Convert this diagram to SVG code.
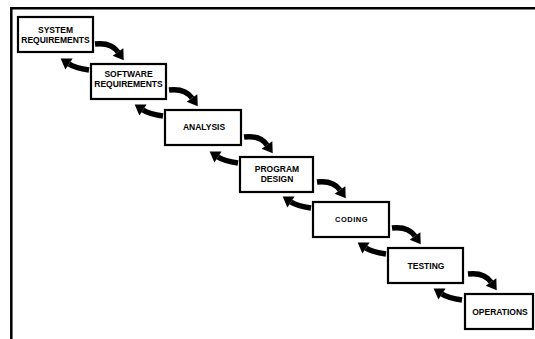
<svg xmlns="http://www.w3.org/2000/svg" xmlns:xlink="http://www.w3.org/1999/xlink" width="535" height="339" viewBox="0 0 535 339">
<style>
.box{fill:#fff;stroke:#000;stroke-width:2.2}
.lbl{font-family:"Liberation Sans",Arial,sans-serif;font-weight:bold;font-size:8.5px;fill:#000;text-anchor:middle}
.shaft{fill:none;stroke:#000;stroke-width:5.5;stroke-linecap:butt}
.frame{fill:none;stroke:#000;stroke-width:2.5}
</style>
<defs>
<marker id="ah" markerUnits="userSpaceOnUse" markerWidth="15" markerHeight="15" viewBox="0 -7.5 12 15" refX="0" refY="0" orient="auto">
<path d="M0,-6.5 L10,0 L0,6.5 Z" fill="#000"/>
</marker>
<path id="fwd" class="shaft" d="M4,-20 Q20,-22 27,-12" marker-end="url(#ah)"/>
<path id="back" class="shaft" d="M-2,6 Q-16,4 -22,0" marker-end="url(#ah)"/>
</defs>
<path class="frame" d="M535,8.3 H11.3 V339"/>
<g id="connectors">
<use xlink:href="#fwd" x="91" y="64"/><use xlink:href="#back" x="91" y="64"/>
<use xlink:href="#fwd" x="165" y="110"/><use xlink:href="#back" x="165" y="110"/>
<use xlink:href="#fwd" x="240" y="157"/><use xlink:href="#back" x="240" y="157"/>
<use xlink:href="#fwd" x="313" y="202"/><use xlink:href="#back" x="313" y="202"/>
<use xlink:href="#fwd" x="388" y="248"/><use xlink:href="#back" x="388" y="248"/>
<use xlink:href="#fwd" x="464" y="294"/><use xlink:href="#back" x="464" y="294"/>
</g>
<g id="system-requirements">
<rect class="box" x="18" y="17" width="75" height="35"/>
<text class="lbl" x="55.5" y="33">SYSTEM</text>
<text class="lbl" x="55.5" y="43">REQUIREMENTS</text>
</g>
<g id="software-requirements">
<rect class="box" x="91" y="64" width="75" height="35"/>
<text class="lbl" x="128.5" y="77">SOFTWARE</text>
<text class="lbl" x="128.5" y="87">REQUIREMENTS</text>
</g>
<g id="analysis">
<rect class="box" x="165" y="110" width="76" height="35"/>
<text class="lbl" x="204" y="130">ANALYSIS</text>
</g>
<g id="program-design">
<rect class="box" x="240" y="157" width="73" height="35"/>
<text class="lbl" x="277" y="172">PROGRAM</text>
<text class="lbl" x="277" y="182">DESIGN</text>
</g>
<g id="coding">
<rect class="box" x="313" y="202" width="76" height="35"/>
<text class="lbl" x="351.5" y="222" style="font-size:7.5px;letter-spacing:0.5px">CODING</text>
</g>
<g id="testing">
<rect class="box" x="388" y="248" width="75" height="35"/>
<text class="lbl" x="426" y="269">TESTING</text>
</g>
<g id="operations">
<rect class="box" x="465" y="294" width="68" height="35"/>
<text class="lbl" x="500" y="315">OPERATIONS</text>
</g>
</svg>
